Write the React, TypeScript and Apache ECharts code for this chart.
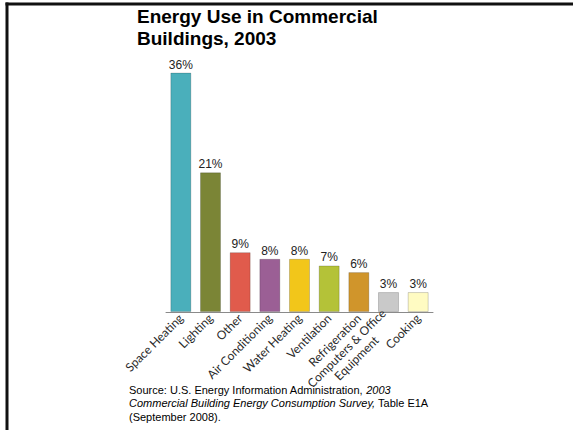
import React, { useEffect, useRef } from "react";
import * as echarts from "echarts";

const categories = [
  "Space Heating",
  "Lighting",
  "Other",
  "Air Conditioning",
  "Water Heating",
  "Ventilation",
  "Refrigeration",
  "Computers & Office\nEquipment",
  "Cooking",
];
const values = [36, 21, 9, 8, 8, 7, 6, 3, 3];
const barColors = [
  "#4AAFBB",
  "#7B8536",
  "#E05B4C",
  "#9B5F95",
  "#F2C61A",
  "#B4C238",
  "#D0952B",
  "#C9C9C9",
  "#FFFBC2",
];
const titleText = "Energy Use in Commercial\nBuildings, 2003";

export default function App() {
  const ref = useRef<HTMLDivElement>(null);
  useEffect(() => {
    if (!ref.current) return;
    const chart = echarts.init(ref.current, null, { renderer: "svg" });
    chart.setOption({
      animation: false,
      backgroundColor: "#ffffff",
      title: {
        text: titleText,
        left: 137,
        top: 5,
        padding: 0,
        textStyle: {
          fontFamily: "Liberation Sans, Arial, sans-serif",
          fontSize: 19,
          fontWeight: "bold",
          color: "#000",
          lineHeight: 22,
        },
      },
      grid: { left: 166, right: 140, top: 46, bottom: 118 },
      xAxis: {
        type: "category",
        data: categories,
        axisLine: { lineStyle: { color: "#8a8a8a", width: 1 } },
        axisTick: { show: false },
        axisLabel: {
          rotate: 45,
          interval: 0,
          margin: 4,
          fontFamily: "Lato, 'Open Sans', sans-serif",
          fontSize: 12,
          color: "#2a2a2a",
          formatter: (v: string) =>
            v.indexOf("\n") >= 0
              ? v
                  .split("\n")
                  .map((s) => "{c|" + s + "}")
                  .join("\n")
              : v,
          rich: {
            c: {
              align: "center",
              fontFamily: "Lato, 'Open Sans', sans-serif",
              fontSize: 12,
              color: "#2a2a2a",
              lineHeight: 14,
            },
          },
        },
      },
      yAxis: { type: "value", min: 0, max: 40, show: false },
      series: [
        {
          type: "bar",
          barWidth: 21,
          data: values.map((v, i) => ({
            value: v,
            itemStyle: {
              color: barColors[i],
              borderColor: "rgba(0,0,0,0.18)",
              borderWidth: 1,
            },
          })),
          label: {
            show: true,
            position: "top",
            distance: 2,
            formatter: "{c}%",
            fontFamily: "Liberation Sans, Arial, sans-serif",
            fontSize: 12,
            color: "#222",
          },
        },
      ],
      graphic: [
        {
          type: "line",
          shape: { x1: 5.5, y1: 4, x2: 573, y2: 4 },
          style: { stroke: "#111", lineWidth: 3 },
        },
        {
          type: "line",
          shape: { x1: 7, y1: 2.5, x2: 7, y2: 430 },
          style: { stroke: "#111", lineWidth: 3 },
        },
        {
          type: "text",
          x: 129,
          y: 383,
          style: {
            text:
              "{n|Source: U.S. Energy Information Administration, }{i|2003}\n{i|Commercial Building Energy Consumption Survey,}{n| Table E1A}\n{n|(September 2008).}",
            verticalAlign: "top",
            align: "left",
            rich: {
              n: {
                fontFamily: "Liberation Sans, Arial, sans-serif",
                fontSize: 11,
                color: "#222",
                lineHeight: 13.5,
              },
              i: {
                fontFamily: "Liberation Sans, Arial, sans-serif",
                fontSize: 11,
                fontStyle: "italic",
                color: "#222",
                lineHeight: 13.5,
              },
            },
          },
        },
      ],
    });
    return () => chart.dispose();
  }, []);
  return (
    <div
      ref={ref}
      style={{ position: "fixed", left: 0, top: 0, width: 573, height: 430 }}
    />
  );
}
